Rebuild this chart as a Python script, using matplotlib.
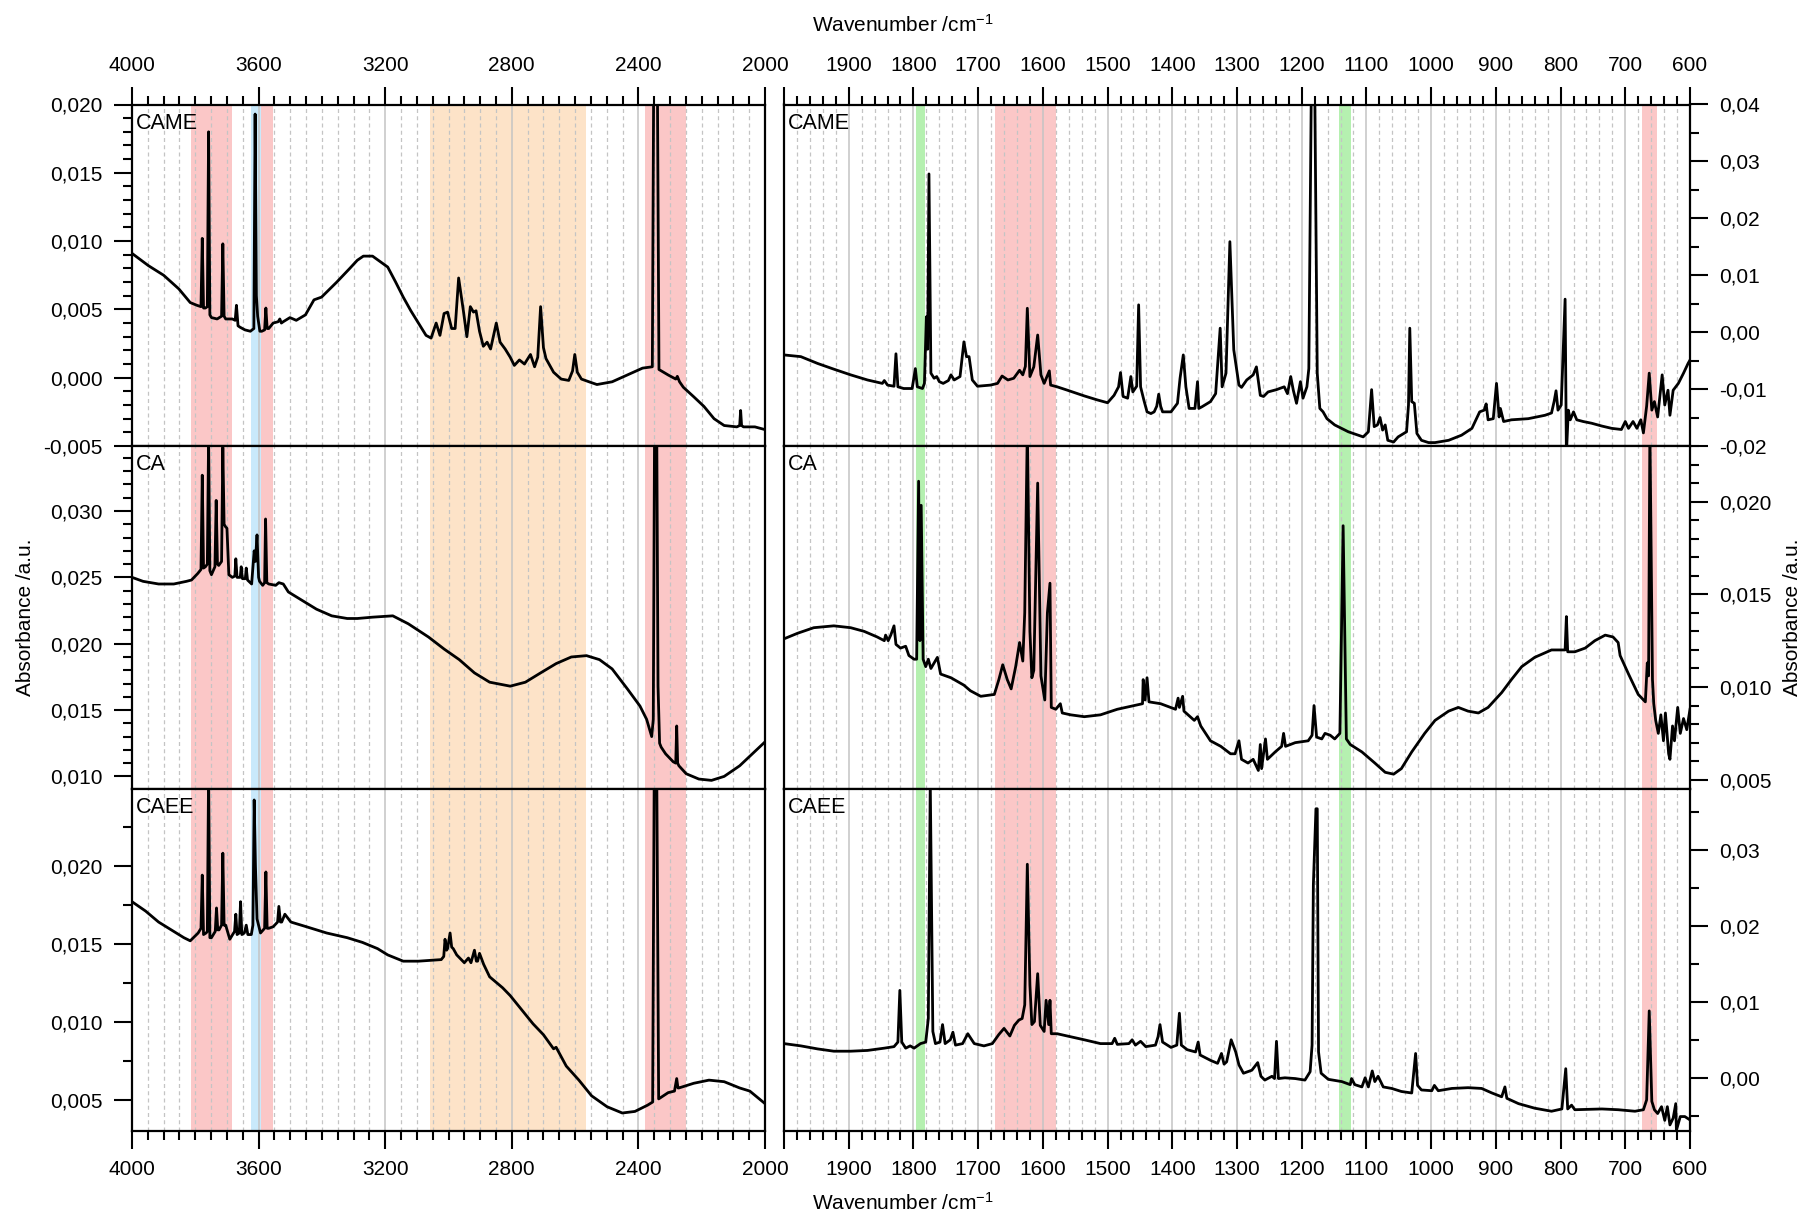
import matplotlib
matplotlib.use('Agg')
import matplotlib.pyplot as plt
from matplotlib.ticker import MultipleLocator, FuncFormatter

plt.rcParams['font.family'] = ['Liberation Sans', 'DejaVu Sans']
plt.rcParams['mathtext.fontset'] = 'custom'
plt.rcParams['mathtext.rm'] = 'Liberation Sans'
plt.rcParams['mathtext.it'] = 'Liberation Sans:italic'
plt.rcParams['axes.unicode_minus'] = False

# ---------------- data ----------------
samples = ['CAME', 'CA', 'CAEE']

came_hi_wn = [4000, 3948, 3900, 3852, 3816, 3795, 3782, 3778, 3774, 3768, 3762, 3758, 3754, 3749, 3731, 3717, 3713, 3709,
              3704, 3683, 3674, 3670, 3665, 3659, 3643, 3626, 3615, 3611, 3607, 3603, 3596, 3590, 3581, 3577, 3573, 3568,
              3554, 3538, 3533, 3528, 3522, 3501, 3481, 3452, 3425, 3401, 3353, 3312, 3288, 3269, 3240, 3216, 3192, 3167,
              3143, 3119, 3095, 3071, 3055, 3039, 3027, 3014, 3003, 2990, 2979, 2968, 2953, 2942, 2931, 2921, 2913, 2902,
              2890, 2878, 2867, 2849, 2837, 2821, 2805, 2792, 2776, 2760, 2741, 2728, 2718, 2709, 2700, 2692, 2668, 2644,
              2620, 2608, 2601, 2593, 2580, 2556, 2531, 2483, 2435, 2387, 2356, 2350, 2342, 2335, 2306, 2282, 2277, 2270,
              2258, 2225, 2193, 2161, 2129, 2089, 2080, 2077, 2074, 2068, 2032, 2000]
came_hi_abs = [0.0091, 0.0082, 0.0075, 0.0065, 0.0055, 0.0053, 0.0052, 0.0102, 0.0051, 0.0051, 0.0052, 0.0180, 0.0046,
               0.0044, 0.0043, 0.0045, 0.0098, 0.0045, 0.0043, 0.0043, 0.0042, 0.0053, 0.0038, 0.0037, 0.0035, 0.0034,
               0.0036, 0.0193, 0.0060, 0.0045, 0.0034, 0.0034, 0.0035, 0.0051, 0.0036, 0.0036, 0.0040, 0.0041, 0.0043,
               0.0040, 0.0041, 0.0044, 0.0042, 0.0046, 0.0057, 0.0059, 0.0070, 0.0080, 0.0086, 0.0089, 0.0089, 0.0085,
               0.0081, 0.0070, 0.0059, 0.0049, 0.0040, 0.0031, 0.0029, 0.0040, 0.0031, 0.0047, 0.0048, 0.0036, 0.0036,
               0.0073, 0.0049, 0.0030, 0.0052, 0.0048, 0.0049, 0.0034, 0.0023, 0.0026, 0.0021, 0.0040, 0.0026, 0.0021,
               0.0015, 0.0009, 0.0013, 0.0010, 0.0017, 0.0008, 0.0015, 0.0052, 0.0022, 0.0014, 0.0004, -0.0001, -0.0002,
               0.0005, 0.0017, 0.0004, -0.0001, -0.0003, -0.0005, -0.0003, 0.0002, 0.0007, 0.0008, 0.0300, 0.0300,
               0.0006, 0.0002, -0.0001, 0.0001, -0.0003, -0.0007, -0.0014, -0.0021, -0.0030, -0.0035, -0.0036, -0.0035,
               -0.0024, -0.0035, -0.0036, -0.0036, -0.0038]

ca_hi_wn = [4000, 3965, 3916, 3868, 3828, 3812, 3792, 3782, 3778, 3774, 3768, 3762, 3758, 3754, 3749, 3738, 3734, 3730,
            3726, 3717, 3713, 3709, 3704, 3700, 3694, 3683, 3675, 3672, 3668, 3658, 3655, 3651, 3642, 3639, 3635, 3622,
            3614, 3610, 3605, 3600, 3597, 3587, 3581, 3578, 3574, 3568, 3546, 3536, 3522, 3506, 3465, 3417, 3369, 3320,
            3288, 3240, 3176, 3127, 3063, 3014, 2966, 2918, 2870, 2805, 2757, 2709, 2660, 2612, 2564, 2523, 2483, 2435,
            2395, 2374, 2358, 2353, 2349, 2342, 2338, 2333, 2328, 2314, 2290, 2282, 2279, 2276, 2272, 2249, 2209, 2169,
            2129, 2080, 2040, 2000]
ca_hi_abs = [0.0250, 0.0247, 0.0245, 0.0245, 0.0247, 0.0248, 0.0253, 0.0256, 0.0327, 0.0257, 0.0258, 0.0260, 0.0355,
             0.0255, 0.0252, 0.0258, 0.0308, 0.0260, 0.0259, 0.0262, 0.0348, 0.0290, 0.0288, 0.0287, 0.0252, 0.0250,
             0.0251, 0.0264, 0.0250, 0.0250, 0.0258, 0.0249, 0.0249, 0.0257, 0.0248, 0.0245, 0.0270, 0.0262, 0.0282,
             0.0250, 0.0247, 0.0244, 0.0246, 0.0294, 0.0246, 0.0245, 0.0244, 0.0246, 0.0245, 0.0239, 0.0233, 0.0226,
             0.0221, 0.0219, 0.0219, 0.0220, 0.0221, 0.0215, 0.0205, 0.0196, 0.0188, 0.0178, 0.0171, 0.0168, 0.0171,
             0.0178, 0.0185, 0.0190, 0.0191, 0.0188, 0.0181, 0.0166, 0.0153, 0.0143, 0.0130, 0.0143, 0.0360, 0.0360,
             0.0168, 0.0125, 0.0122, 0.0117, 0.0111, 0.0110, 0.0138, 0.0110, 0.0108, 0.0102, 0.0098, 0.0097, 0.0100,
             0.0108, 0.0117, 0.0126]

caee_hi_wn = [4000, 3957, 3916, 3868, 3836, 3816, 3791, 3782, 3778, 3774, 3766, 3762, 3758, 3754, 3749, 3737, 3733, 3729,
              3725, 3717, 3713, 3709, 3704, 3691, 3676, 3672, 3668, 3661, 3657, 3653, 3645, 3639, 3634, 3623, 3618, 3614,
              3610, 3605, 3594, 3581, 3577, 3573, 3568, 3554, 3540, 3536, 3531, 3527, 3517, 3498, 3449, 3385, 3320, 3272,
              3224, 3192, 3143, 3095, 3023, 3015, 3011, 3006, 3003, 2995, 2990, 2985, 2974, 2950, 2937, 2929, 2918, 2912,
              2908, 2902, 2889, 2870, 2829, 2805, 2773, 2733, 2700, 2668, 2660, 2628, 2588, 2548, 2499, 2451, 2411, 2371,
              2355, 2350, 2342, 2336, 2306, 2286, 2279, 2275, 2272, 2225, 2177, 2129, 2080, 2048, 2000]
caee_hi_abs = [0.0177, 0.0171, 0.0164, 0.0158, 0.0154, 0.0152, 0.0157, 0.0160, 0.0194, 0.0156, 0.0157, 0.0158, 0.0260,
               0.0154, 0.0154, 0.0158, 0.0173, 0.0159, 0.0159, 0.0162, 0.0208, 0.0162, 0.0162, 0.0153, 0.0158, 0.0169,
               0.0156, 0.0157, 0.0177, 0.0156, 0.0157, 0.0162, 0.0156, 0.0156, 0.0162, 0.0242, 0.0200, 0.0166, 0.0157,
               0.0160, 0.0196, 0.0160, 0.0160, 0.0161, 0.0164, 0.0174, 0.0164, 0.0164, 0.0169, 0.0164, 0.0161, 0.0157,
               0.0154, 0.0151, 0.0147, 0.0143, 0.0139, 0.0139, 0.0140, 0.0142, 0.0153, 0.0146, 0.0147, 0.0157, 0.0148,
               0.0147, 0.0143, 0.0138, 0.0141, 0.0138, 0.0146, 0.0139, 0.0139, 0.0144, 0.0137, 0.0129, 0.0122, 0.0117,
               0.0109, 0.0099, 0.0092, 0.0083, 0.0084, 0.0072, 0.0063, 0.0053, 0.0046, 0.0042, 0.0043, 0.0047, 0.0049,
               0.0260, 0.0260, 0.0051, 0.0055, 0.0056, 0.0064, 0.0058, 0.0058, 0.0061, 0.0063, 0.0062, 0.0058, 0.0056,
               0.0048]

came_lo_wn = [2000, 1974, 1948, 1923, 1897, 1871, 1848, 1845, 1840, 1830, 1827, 1824, 1815, 1802, 1797, 1794, 1786, 1783,
              1780, 1778, 1776, 1773, 1768, 1764, 1760, 1754, 1746, 1742, 1737, 1728, 1722, 1718, 1714, 1709, 1701, 1681,
              1670, 1663, 1654, 1645, 1636, 1631, 1627, 1624, 1620, 1614, 1608, 1603, 1598, 1590, 1588, 1578, 1562, 1536,
              1516, 1500, 1490, 1483, 1480, 1476, 1469, 1464, 1461, 1455, 1452, 1449, 1444, 1439, 1433, 1428, 1424, 1421,
              1418, 1415, 1402, 1392, 1388, 1383, 1379, 1374, 1365, 1361, 1359, 1354, 1341, 1333, 1326, 1323, 1317, 1311,
              1305, 1297, 1293, 1285, 1275, 1270, 1264, 1259, 1252, 1239, 1227, 1222, 1217, 1213, 1208, 1202, 1198, 1192,
              1189, 1185, 1180, 1176, 1172, 1167, 1161, 1149, 1128, 1113, 1105, 1097, 1092, 1088, 1083, 1079, 1075, 1071,
              1067, 1058, 1051, 1038, 1035, 1033, 1030, 1026, 1022, 1015, 1004, 994, 973, 953, 937, 925, 918, 915, 912,
              904, 899, 895, 893, 888, 876, 850, 824, 814, 810, 807, 804, 799, 793, 791, 788, 785, 780, 775, 765, 752,
              736, 721, 706, 700, 695, 688, 682, 676, 672, 667, 663, 659, 655, 650, 643, 639, 634, 631, 626, 618, 610,
              603, 600]
came_lo_abs = [-0.0040, -0.0043, -0.0055, -0.0065, -0.0075, -0.0084, -0.0090, -0.0085, -0.0093, -0.0095, -0.0038,
               -0.0096, -0.0099, -0.0099, -0.0064, -0.0096, -0.0099, -0.0090, 0.0027, -0.0030, 0.0278, -0.0072,
               -0.0081, -0.0078, -0.0087, -0.0090, -0.0085, -0.0075, -0.0084, -0.0078, -0.0017, -0.0043, -0.0043,
               -0.0084, -0.0095, -0.0093, -0.0090, -0.0077, -0.0084, -0.0081, -0.0067, -0.0075, -0.0060, 0.0042,
               -0.0078, -0.0061, -0.0005, -0.0075, -0.0090, -0.0068, -0.0093, -0.0096, -0.0102, -0.0112, -0.0119,
               -0.0124, -0.0111, -0.0096, -0.0071, -0.0113, -0.0116, -0.0078, -0.0105, -0.0095, 0.0048, -0.0096,
               -0.0119, -0.0140, -0.0143, -0.0140, -0.0130, -0.0109, -0.0130, -0.0140, -0.0140, -0.0125, -0.0081,
               -0.0040, -0.0096, -0.0134, -0.0134, -0.0087, -0.0134, -0.0131, -0.0122, -0.0108, 0.0007, -0.0096,
               -0.0072, 0.0159, -0.0031, -0.0093, -0.0097, -0.0084, -0.0075, -0.0061, -0.0111, -0.0113, -0.0105,
               -0.0101, -0.0096, -0.0108, -0.0078, -0.0102, -0.0125, -0.0087, -0.0116, -0.0096, -0.0064, 0.0450,
               0.0450, -0.0072, -0.0134, -0.0140, -0.0152, -0.0163, -0.0175, -0.0181, -0.0184, -0.0175, -0.0101,
               -0.0166, -0.0163, -0.0150, -0.0172, -0.0163, -0.0190, -0.0193, -0.0184, -0.0175, -0.0128, 0.0007,
               -0.0122, -0.0125, -0.0178, -0.0190, -0.0194, -0.0194, -0.0190, -0.0181, -0.0169, -0.0140, -0.0137,
               -0.0126, -0.0154, -0.0152, -0.0090, -0.0149, -0.0134, -0.0157, -0.0154, -0.0152, -0.0146, -0.0142,
               -0.0122, -0.0103, -0.0137, -0.0128, 0.0058, -0.0215, -0.0137, -0.0154, -0.0140, -0.0154, -0.0157,
               -0.0160, -0.0165, -0.0169, -0.0171, -0.0157, -0.0169, -0.0157, -0.0169, -0.0154, -0.0177, -0.0130,
               -0.0072, -0.0137, -0.0122, -0.0149, -0.0075, -0.0128, -0.0102, -0.0146, -0.0102, -0.0090, -0.0072,
               -0.0055, -0.0049]

ca_lo_wn = [2000, 1979, 1954, 1923, 1897, 1876, 1856, 1845, 1843, 1839, 1835, 1830, 1827, 1820, 1812, 1807, 1799, 1795,
            1792, 1790, 1788, 1785, 1781, 1777, 1773, 1763, 1758, 1742, 1722, 1712, 1696, 1675, 1668, 1662, 1655, 1649,
            1642, 1636, 1631, 1628, 1624, 1620, 1617, 1614, 1608, 1603, 1597, 1593, 1589, 1587, 1580, 1573, 1570, 1557,
            1536, 1511, 1485, 1459, 1446, 1445, 1442, 1439, 1436, 1418, 1395, 1391, 1389, 1384, 1382, 1366, 1361, 1356,
            1341, 1325, 1310, 1303, 1297, 1293, 1283, 1275, 1267, 1264, 1262, 1256, 1253, 1241, 1231, 1228, 1225, 1210,
            1190, 1184, 1181, 1177, 1169, 1164, 1156, 1149, 1141, 1136, 1131, 1125, 1107, 1087, 1071, 1058, 1046, 1030,
            1010, 994, 973, 958, 943, 927, 912, 891, 876, 860, 840, 814, 793, 791, 789, 778, 762, 747, 731, 719, 711,
            708, 695, 680, 669, 666, 664, 662, 658, 656, 653, 649, 645, 641, 638, 633, 631, 627, 624, 619, 615, 610,
            605, 600]
ca_lo_abs = [0.0126, 0.0129, 0.0132, 0.0133, 0.0132, 0.0130, 0.0127, 0.0125, 0.0128, 0.0125, 0.0128, 0.0133, 0.0123,
             0.0121, 0.0122, 0.0117, 0.0115, 0.0115, 0.0211, 0.0125, 0.0198, 0.0115, 0.0111, 0.0115, 0.0110, 0.0116,
             0.0107, 0.0105, 0.0101, 0.0098, 0.0095, 0.0096, 0.0104, 0.0112, 0.0104, 0.0099, 0.0111, 0.0124, 0.0114,
             0.0140, 0.0240, 0.0130, 0.0105, 0.0109, 0.0210, 0.0106, 0.0093, 0.0140, 0.0156, 0.0089, 0.0088, 0.0091,
             0.0086, 0.0085, 0.0084, 0.0085, 0.0088, 0.0090, 0.0091, 0.0104, 0.0093, 0.0105, 0.0092, 0.0091, 0.0088,
             0.0094, 0.0089, 0.0095, 0.0087, 0.0082, 0.0084, 0.0079, 0.0071, 0.0068, 0.0064, 0.0064, 0.0071, 0.0061,
             0.0059, 0.0061, 0.0055, 0.0069, 0.0056, 0.0072, 0.0061, 0.0065, 0.0068, 0.0075, 0.0068, 0.0070, 0.0071,
             0.0074, 0.0090, 0.0073, 0.0072, 0.0075, 0.0074, 0.0072, 0.0075, 0.0187, 0.0072, 0.0069, 0.0065, 0.0059,
             0.0054, 0.0053, 0.0056, 0.0065, 0.0075, 0.0082, 0.0087, 0.0089, 0.0087, 0.0086, 0.0089, 0.0097, 0.0104,
             0.0111, 0.0116, 0.0120, 0.0120, 0.0138, 0.0119, 0.0119, 0.0121, 0.0125, 0.0128, 0.0127, 0.0124, 0.0117,
             0.0107, 0.0096, 0.0092, 0.0113, 0.0106, 0.0240, 0.0104, 0.0091, 0.0082, 0.0075, 0.0085, 0.0071, 0.0086,
             0.0064, 0.0061, 0.0079, 0.0071, 0.0089, 0.0075, 0.0083, 0.0077, 0.0088]

caee_lo_wn = [2000, 1974, 1948, 1923, 1897, 1871, 1845, 1830, 1824, 1821, 1818, 1812, 1805, 1799, 1789, 1781, 1777, 1774,
              1770, 1766, 1759, 1755, 1751, 1743, 1739, 1735, 1724, 1716, 1706, 1691, 1678, 1668, 1660, 1651, 1644, 1637,
              1632, 1628, 1624, 1620, 1617, 1613, 1608, 1604, 1598, 1595, 1591, 1589, 1587, 1578, 1562, 1536, 1511, 1493,
              1489, 1485, 1467, 1462, 1457, 1449, 1441, 1426, 1422, 1419, 1415, 1402, 1393, 1389, 1386, 1377, 1364, 1360,
              1357, 1341, 1330, 1324, 1320, 1316, 1309, 1302, 1297, 1290, 1277, 1268, 1263, 1257, 1246, 1242, 1239, 1236,
              1226, 1210, 1195, 1187, 1184, 1182, 1178, 1176, 1174, 1170, 1159, 1138, 1125, 1123, 1118, 1107, 1102, 1097,
              1091, 1087, 1082, 1074, 1061, 1046, 1030, 1024, 1021, 1015, 999, 995, 989, 968, 943, 922, 906, 891, 886,
              883, 865, 840, 814, 798, 792, 789, 783, 778, 736, 711, 685, 672, 667, 663, 659, 655, 650, 644, 639, 635,
              631, 626, 622, 621, 615, 608, 599]
caee_lo_abs = [0.0045, 0.0042, 0.0038, 0.0035, 0.0035, 0.0036, 0.0039, 0.0041, 0.0047, 0.0115, 0.0047, 0.0039, 0.0042,
               0.0039, 0.0045, 0.0047, 0.0078, 0.0390, 0.0061, 0.0045, 0.0047, 0.0070, 0.0045, 0.0050, 0.0060, 0.0043,
               0.0045, 0.0058, 0.0045, 0.0042, 0.0045, 0.0057, 0.0065, 0.0055, 0.0069, 0.0076, 0.0078, 0.0096, 0.0281,
               0.0122, 0.0070, 0.0074, 0.0137, 0.0069, 0.0061, 0.0102, 0.0070, 0.0102, 0.0058, 0.0058, 0.0055, 0.0050,
               0.0045, 0.0045, 0.0052, 0.0044, 0.0045, 0.0050, 0.0043, 0.0048, 0.0041, 0.0043, 0.0054, 0.0070, 0.0047,
               0.0040, 0.0043, 0.0085, 0.0043, 0.0037, 0.0034, 0.0047, 0.0030, 0.0023, 0.0019, 0.0032, 0.0018, 0.0021,
               0.0050, 0.0034, 0.0017, 0.0006, 0.0010, 0.0020, 0.0002, -0.0003, 0.0002, -0.0001, 0.0048, -0.0001,
               0.0000, -0.0001, -0.0003, 0.0008, 0.0043, 0.0254, 0.0354, 0.0354, 0.0034, 0.0006, -0.0002, -0.0005,
               -0.0009, -0.0001, -0.0009, -0.0012, 0.0000, -0.0012, 0.0009, -0.0005, 0.0002, -0.0012, -0.0014, -0.0018,
               -0.0020, 0.0032, -0.0010, -0.0016, -0.0017, -0.0010, -0.0017, -0.0014, -0.0013, -0.0014, -0.0020,
               -0.0025, -0.0012, -0.0027, -0.0034, -0.0040, -0.0044, -0.0041, 0.0012, -0.0041, -0.0036, -0.0042,
               -0.0041, -0.0042, -0.0044, -0.0042, -0.0029, 0.0088, -0.0031, -0.0042, -0.0047, -0.0038, -0.0056,
               -0.0038, -0.0062, -0.0053, -0.0034, -0.0069, -0.0051, -0.0051, -0.0056]

# shaded bands (wavenumber ranges)
hi_bands = [(3813, 3683, 'pink'), (3623, 3591, 'blue'), (3591, 3554, 'pink'), (3060, 2567, 'peach'), (2380, 2250, 'pink')]
lo_bands = [(1796, 1782, 'green'), (1674, 1579, 'pink'), (1143, 1124, 'green'), (674, 651, 'pink')]
band_colors = {'pink': '#fbc7c7', 'blue': '#c9e9fb', 'peach': '#fde3c8', 'green': '#b5f0b0'}

hi_series = [(came_hi_wn, came_hi_abs), (ca_hi_wn, ca_hi_abs), (caee_hi_wn, caee_hi_abs)]
lo_series = [(came_lo_wn, came_lo_abs), (ca_lo_wn, ca_lo_abs), (caee_lo_wn, caee_lo_abs)]

hi_ylims = [(-0.005, 0.020), (0.00905, 0.0349), (0.00305, 0.0249)]
hi_ymaj = [0.005, 0.005, 0.005]
hi_ymin = [0.001, 0.001, 0.0025]
lo_ylims = [(-0.02, 0.04), (0.0045, 0.023), (-0.007, 0.038)]
lo_ymaj = [0.01, 0.005, 0.01]
lo_ymin = [0.005, 0.001, 0.005]
lo_dec = [2, 3, 2]

# ---------------- layout ----------------
W, H = 1805, 1216
fig = plt.figure(figsize=(W / 100, H / 100), dpi=100)

col_px = [(132, 765), (784, 1690)]
row_px = [(104.5, 446), (446, 789), (789, 1131)]

FS = 15


def comma_fmt(dec):
    def f(v, pos):
        v = round(v, dec)
        if abs(v) < 1e-12:
            v = 0.0
        return f'{v:.{dec}f}'.replace('.', ',')
    return FuncFormatter(f)


def lo_xfmt(v, pos):
    return '' if abs(v - 2000) < 1e-6 else f'{int(round(v))}'


for r in range(3):
    y0, y1 = row_px[r]
    for c in range(2):
        x0, x1 = col_px[c]
        ax = fig.add_axes([x0 / W, 1 - y1 / H, (x1 - x0) / W, (y1 - y0) / H])
        ax.set_axisbelow(True)
        if c == 0:
            wn, ab = hi_series[r]
            ax.set_xlim(4000, 2000)
            ax.xaxis.set_major_locator(MultipleLocator(400))
            ax.xaxis.set_minor_locator(MultipleLocator(50))
            ax.xaxis.set_major_formatter(FuncFormatter(lambda v, p: f'{int(round(v))}'))
            ax.set_ylim(*hi_ylims[r])
            ax.yaxis.set_major_locator(MultipleLocator(hi_ymaj[r]))
            ax.yaxis.set_minor_locator(MultipleLocator(hi_ymin[r]))
            ax.yaxis.set_major_formatter(comma_fmt(3))
            bands = hi_bands
            ax.tick_params(axis='y', which='both', left=True, right=False, labelleft=True, labelright=False)
        else:
            wn, ab = lo_series[r]
            ax.set_xlim(2000, 600)
            ax.xaxis.set_major_locator(MultipleLocator(100))
            ax.xaxis.set_minor_locator(MultipleLocator(20))
            ax.xaxis.set_major_formatter(FuncFormatter(lo_xfmt))
            ax.set_ylim(*lo_ylims[r])
            ax.yaxis.set_major_locator(MultipleLocator(lo_ymaj[r]))
            ax.yaxis.set_minor_locator(MultipleLocator(lo_ymin[r]))
            ax.yaxis.set_major_formatter(comma_fmt(lo_dec[r]))
            bands = lo_bands
            ax.tick_params(axis='y', which='both', left=False, right=True, labelleft=False, labelright=True)

        for a, b, col in bands:
            ax.axvspan(b, a, color=band_colors[col], lw=0, zorder=0.2)

        ax.grid(True, which='major', axis='x', color='#c4c4c4', lw=1.1, ls='-')
        ax.grid(True, which='minor', axis='x', color='#c4c4c4', lw=0.9, ls=(0, (3.2, 2.6)))

        ax.plot(wn, ab, color='black', lw=2.0, zorder=3, solid_joinstyle='round')

        if r == 0:
            ax.tick_params(axis='x', which='both', top=True, bottom=False, labeltop=True, labelbottom=False)
        elif r == 2:
            ax.tick_params(axis='x', which='both', top=False, bottom=True, labeltop=False, labelbottom=True)
        else:
            ax.tick_params(axis='x', which='both', top=False, bottom=False, labeltop=False, labelbottom=False)

        ax.tick_params(which='both', direction='out', width=1.5, labelsize=FS, pad=8, color='black')
        ax.tick_params(which='major', length=13)
        ax.tick_params(which='minor', length=6.5)
        for s in ax.spines.values():
            s.set_linewidth(1.6)

        ax.annotate(samples[r], xy=(0, 1), xycoords='axes fraction', xytext=(3, -6),
                    textcoords='offset points', ha='left', va='top', fontsize=15.5)

ymid = 1 - (row_px[1][0] + row_px[1][1]) / 2 / H
fig.text(26 / W, ymid, 'Absorbance /a.u.', rotation=90, ha='center', va='center', fontsize=FS)
fig.text(1793 / W, ymid, 'Absorbance /a.u.', rotation=90, ha='center', va='center', fontsize=FS)
fig.text(0.5, 1 - 25 / H, r'Wavenumber /cm$^{-1}$', ha='center', va='center', fontsize=FS)
fig.text(0.5, 1 - 1203 / H, r'Wavenumber /cm$^{-1}$', ha='center', va='center', fontsize=FS)

fig.savefig('out.png', dpi=100)
